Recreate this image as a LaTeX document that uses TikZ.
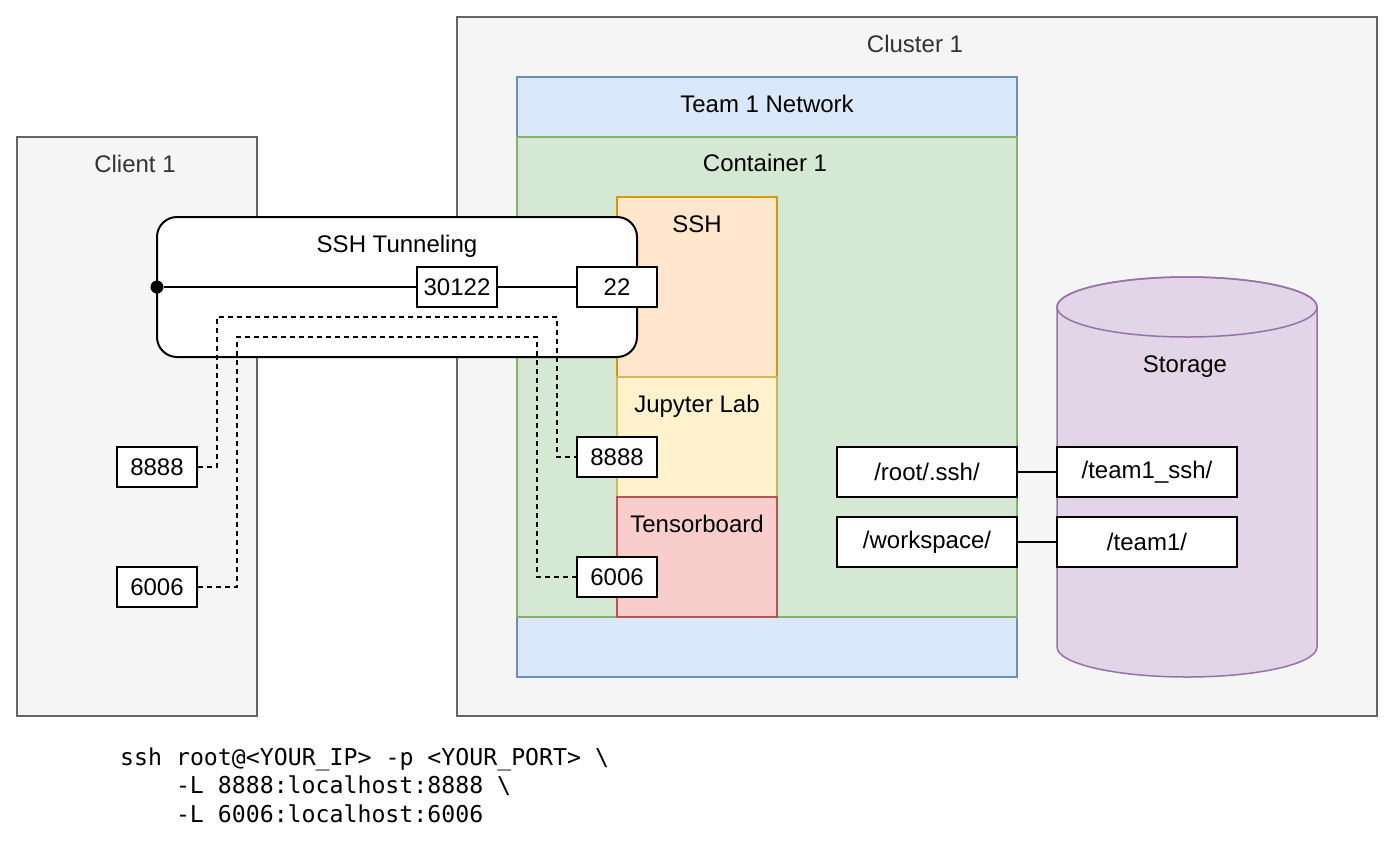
\documentclass[tikz,border=0pt]{standalone}
\usepackage{fontspec}
\setmainfont{Liberation Sans}
\newfontfamily\codefont{DejaVu Sans Mono}
\definecolor{grayfill}{HTML}{F5F5F5}
\definecolor{graystroke}{HTML}{666666}
\definecolor{graytext}{HTML}{333333}
\definecolor{bluefill}{HTML}{DAE8FC}
\definecolor{bluestroke}{HTML}{6C8EBF}
\definecolor{greenfill}{HTML}{D5E8D4}
\definecolor{greenstroke}{HTML}{82B366}
\definecolor{orangefill}{HTML}{FFE6CC}
\definecolor{orangestroke}{HTML}{D79B00}
\definecolor{yellowfill}{HTML}{FFF2CC}
\definecolor{yellowstroke}{HTML}{D6B656}
\definecolor{redfill}{HTML}{F8CECC}
\definecolor{redstroke}{HTML}{B85450}
\definecolor{purplefill}{HTML}{E1D5E7}
\definecolor{purplestroke}{HTML}{9673A6}
\tikzset{
  area/.style={draw, line width=1.5pt, inner sep=0pt},
  graybox/.style={area, fill=grayfill, draw=graystroke},
  bluebox/.style={area, fill=bluefill, draw=bluestroke},
  greenbox/.style={area, fill=greenfill, draw=greenstroke},
  orangebox/.style={area, fill=orangefill, draw=orangestroke},
  yellowbox/.style={area, fill=yellowfill, draw=yellowstroke},
  redbox/.style={area, fill=redfill, draw=redstroke},
  lbl/.style={font=\fontsize{24}{28}\selectfont, anchor=base, inner sep=0pt},
  graylbl/.style={lbl, text=graytext},
  port/.style={draw=black, fill=white, line width=2pt, inner sep=0pt,
    minimum width=80pt, minimum height=40pt, font=\fontsize{24}{28}\selectfont},
  pathbox/.style={port, minimum width=180pt, minimum height=50pt},
  conn/.style={draw=black, line width=2pt},
  dashconn/.style={draw=black, line width=2pt, dash pattern=on 5pt off 4pt},
  codetxt/.style={font=\codefont\fontsize{23.2}{28}\selectfont, anchor=base west, inner sep=0pt},
}
\begin{document}
\begin{tikzpicture}[x=1pt, y=-1pt]
\useasboundingbox (0,0) rectangle (1394,854);
% containers
\path[graybox] (457,17) rectangle (1377,716);
\node[graylbl] (clusterlbl) at (915,52) {Cluster 1};
\path[bluebox] (517,77) rectangle (1017,677);
\node[lbl] (netlbl) at (767,112) {Team 1 Network};
\path[greenbox] (517,137) rectangle (1017,617);
\node[lbl] (contlbl) at (765,171) {Container 1};
\path[orangebox] (617,197) rectangle (777,377);
\node[lbl] (sshlbl) at (697,232) {SSH};
\path[yellowbox] (617,377) rectangle (777,497);
\node[lbl] (juplbl) at (697,412) {Jupyter Lab};
\path[redbox] (617,497) rectangle (777,617);
\node[lbl] (tblbl) at (697,532) {Tensorboard};
\path[graybox] (17,137) rectangle (257,716);
\node[graylbl] (clientlbl) at (135,172) {Client 1};
% storage cylinder
\path[draw=purplestroke, fill=purplefill, line width=1.5pt]
  (1057,307) -- (1057,647) arc[start angle=180, end angle=360, x radius=130pt, y radius=30pt]
  -- (1317,307) arc[start angle=0, end angle=180, x radius=130pt, y radius=30pt] -- cycle;
\draw[draw=purplestroke, line width=1.5pt] (1187,307) ellipse[x radius=130pt, y radius=30pt];
\node[lbl] (storlbl) at (1185,372) {Storage};
% tunnel
\path[draw=black, fill=white, line width=2pt, rounded corners=20pt] (157,217) rectangle (637,357);
\node[lbl] (tunlbl) at (397,252) {SSH Tunneling};
% ports
\node[port] (p30122) at (457,287) {30122};
\node[port] (p22) at (617,287) {22};
\node[port] (cl8888) at (157,467) {8888};
\node[port] (cl6006) at (157,587) {6006};
\node[port] (ct8888) at (617,457) {8888};
\node[port] (ct6006) at (617,577) {6006};
\node[circle, fill=black, inner sep=0pt, minimum size=13pt] (dot) at (157,287) {};
\draw[conn] (dot) -- (p30122);
\draw[conn] (p30122) -- (p22);
% dashed tunnels
\coordinate (da) at (217,317);
\coordinate (db) at (557,317);
\coordinate (dc) at (237,337);
\coordinate (dd) at (537,337);
\draw[dashconn] (cl8888.east) -| (da) -- (db) |- (ct8888.west);
\draw[dashconn] (cl6006.east) -| (dc) -- (dd) |- (ct6006.west);
% volumes
\node[pathbox] (rootssh) at (927,472) {/root/.ssh/};
\node[pathbox] (teamssh) at (1147,472) {/team1\_ssh/};
\node[pathbox] (ws) at (927,542) {/workspace/};
\node[pathbox] (team) at (1147,542) {/team1/};
\draw[conn] (rootssh) -- (teamssh);
\draw[conn] (ws) -- (team);
% code
\node[codetxt] (code1) at (120,765) {ssh root@<YOUR\_IP> -p <YOUR\_PORT> \textbackslash};
\node[codetxt] (code2) at (175.8,793.5) {-L 8888:localhost:8888 \textbackslash};
\node[codetxt] (code3) at (175.8,822) {-L 6006:localhost:6006};
\end{tikzpicture}
\end{document}
